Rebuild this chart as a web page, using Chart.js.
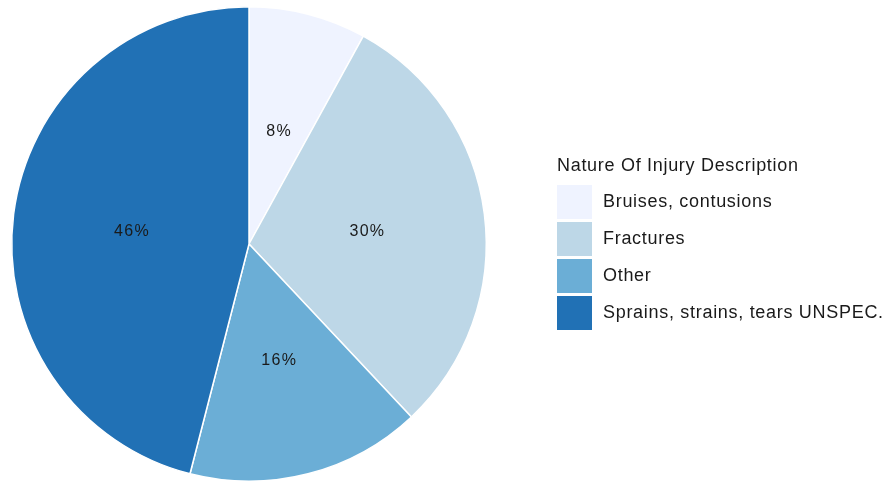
<!DOCTYPE html>
<html>
<head>
<meta charset="utf-8">
<script src="https://cdn.jsdelivr.net/npm/chart.js@4.4.1/dist/chart.umd.min.js"></script>
<style>
  html, body { margin: 0; padding: 0; background: #ffffff; }
  #wrap { width: 887px; height: 482px; position: relative; }
</style>
</head>
<body>
<div id="wrap"><canvas id="myChart" width="887" height="482"></canvas></div>
<script>
// injury categories and their share (%)
var categorias = ['Bruises, contusions', 'Fractures', 'Other', 'Sprains, strains, tears UNSPEC.'];
var percentuais = [8, 30, 16, 46];
var cores = ['#eff3ff', '#bdd7e7', '#6baed6', '#2171b5'];
var tituloLegenda = 'Nature Of Injury Description';

var fonte = '"Liberation Sans", Arial, sans-serif';

// writes the % inside each slice
const rotulosFatias = {
  id: 'rotulosFatias',
  afterDatasetsDraw(chart) {
    const ctx = chart.ctx;
    const meta = chart.getDatasetMeta(0);
    ctx.save();
    ctx.font = '16px ' + fonte;
    ctx.letterSpacing = '1.3px';
    ctx.fillStyle = '#1a1a1a';
    ctx.textAlign = 'center';
    ctx.textBaseline = 'middle';
    meta.data.forEach(function (arc, i) {
      const p = arc.tooltipPosition();
      ctx.fillText(percentuais[i] + '%', p.x + 0.7, p.y + 2);
    });
    ctx.restore();
  }
};

// legend with title and square keys on the right
const legendaLateral = {
  id: 'legendaLateral',
  afterDraw(chart) {
    const ctx = chart.ctx;
    const x0 = 557;
    const y0 = 185;
    const passo = 37;
    ctx.save();
    ctx.fillStyle = '#1a1a1a';
    ctx.font = '18px ' + fonte;
    ctx.letterSpacing = '0.7px';
    ctx.textBaseline = 'middle';
    ctx.fillText(tituloLegenda, x0, 166);
    for (var i = 0; i < categorias.length; i++) {
      const y = y0 + i * passo;
      ctx.fillStyle = cores[i];
      ctx.fillRect(x0, y, 35, 34);
      ctx.fillStyle = '#1a1a1a';
      ctx.fillText(categorias[i], 603, y + 17.5);
    }
    ctx.restore();
  }
};

const data = {
  labels: categorias,
  datasets: [{
    data: percentuais,
    backgroundColor: cores,
    borderColor: '#ffffff',
    borderWidth: 1.5
  }]
};

const config = {
  type: 'pie',
  data: data,
  options: {
    responsive: false,
    animation: false,
    layout: {
      padding: { left: 11, top: 6, right: 400, bottom: 0 }
    },
    plugins: {
      legend: { display: false },
      tooltip: { enabled: false }
    }
  },
  plugins: [rotulosFatias, legendaLateral]
};

const myChart = new Chart(document.getElementById('myChart'), config);
</script>
</body>
</html>
